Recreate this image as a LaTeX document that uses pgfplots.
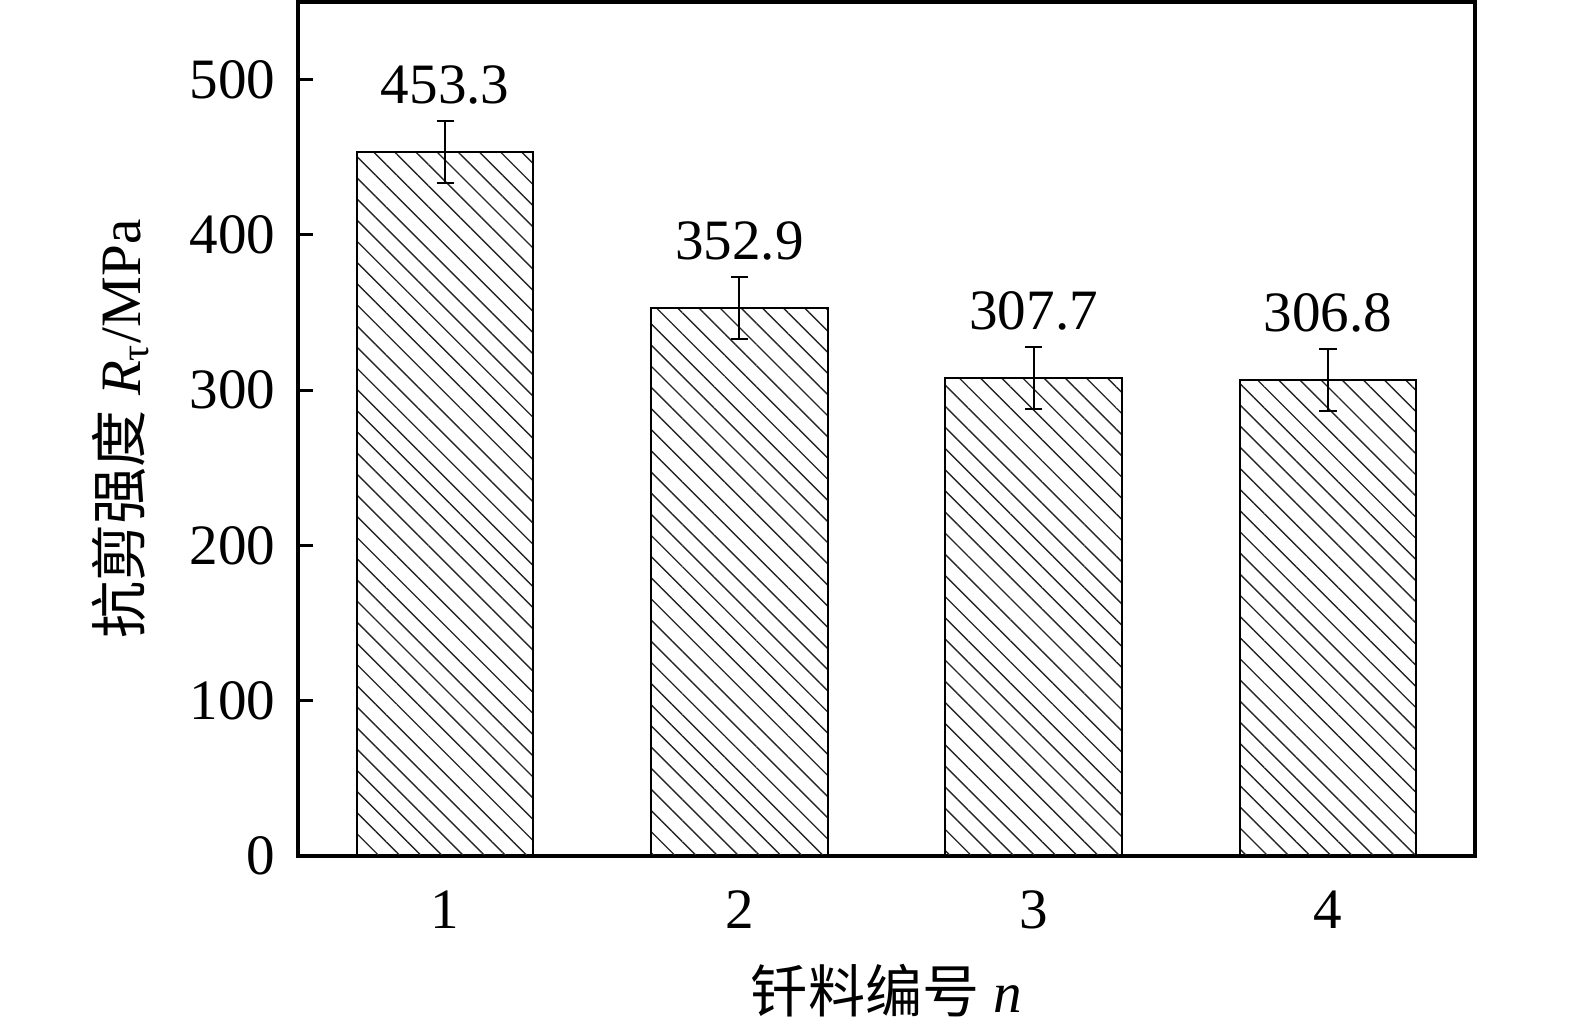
\documentclass[border=0pt]{standalone}
\usepackage{fontspec}
\setmainfont{Liberation Serif}
\newfontfamily\cjk{Noto Sans CJK SC}
\usepackage{pgfplots}
\pgfplotsset{compat=1.18}
\usetikzlibrary{patterns.meta}
\begin{document}
\fontsize{14.5pt}{17pt}\selectfont
\begin{tikzpicture}
\begin{axis}[
  width=298.9pt, height=216.9pt, scale only axis,
  xmin=0.5, xmax=4.5, ymin=0, ymax=550,
  xtick={1,2,3,4},
  ytick={0,100,200,300,400,500},
  ytick pos=left, tick align=inside,
  major tick length=3.8pt,
  x tick style={draw=none},
  axis line style={line width=0.8pt},
  tick style={line width=0.8pt, black},
  /pgf/number format/assume math mode=true,
  ticklabel style={font=\fontsize{14.5pt}{17pt}\selectfont},
  yticklabel style={xshift=-0.7pt},
  xticklabel style={yshift=0pt},
  xlabel={{\cjk 钎料编号} \textit{n}},
  ylabel={{\cjk 抗剪强度} \textit{R}\textsubscript{τ}/MPa},
  xlabel style={yshift=1pt},
  ylabel style={yshift=0.5pt},
  label style={font=\fontsize{14.5pt}{17pt}\selectfont},
  ybar, bar width=0.6,
  nodes near coords={\pgfmathprintnumber[fixed, precision=1, zerofill, assume math mode=true]{\pgfplotspointmeta}},
  every node near coord/.append style={anchor=base, yshift=12.3pt, font=\fontsize{14.5pt}{17pt}\selectfont, black},
]
\addplot[draw=black, line width=0.5pt,
  pattern={Lines[angle=-45, distance=3.8pt, line width=0.35pt]}, pattern color=black!85,
  error bars/.cd, y dir=both, y explicit,
  error bar style={line width=0.5pt, black},
  error mark options={rotate=90, mark size=2.2pt, line width=0.5pt, black}]
coordinates {(1,453.3) +- (0,20) (2,352.9) +- (0,20) (3,307.7) +- (0,20) (4,306.8) +- (0,20)};
\end{axis}
\pgfresetboundingbox
\path (current axis.south west) ++(-75.7pt,-43.4pt) coordinate (bl);
\path (current axis.north east) ++(25.4pt,0.5pt) coordinate (tr);
\path (bl) rectangle (tr);
\end{tikzpicture}
\end{document}
